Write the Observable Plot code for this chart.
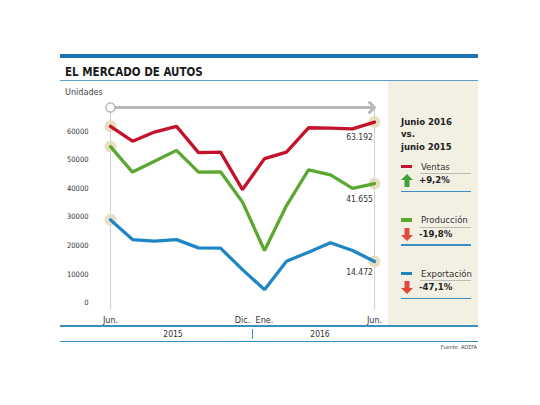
<!DOCTYPE html>
<html>
<head>
<meta charset="utf-8">
<script src="https://cdn.jsdelivr.net/npm/d3@7"></script>
<script src="https://cdn.jsdelivr.net/npm/@observablehq/plot@0.6"></script>
<style>
  html, body { margin: 0; padding: 0; background: #fff; }
  #root { position: relative; width: 540px; height: 405px; overflow: hidden; font-family: "DejaVu Sans Condensed", "Liberation Sans Narrow", Roboto, sans-serif; }
  #root svg { position: absolute; left: 0; top: 0; }
  .abs { position: absolute; white-space: nowrap; }
</style>
</head>
<body>
<div id="root"></div>
<script>
// ---- data ----
const months = ["2015-06","2015-07","2015-08","2015-09","2015-10","2015-11","2015-12","2016-01","2016-02","2016-03","2016-04","2016-05","2016-06"];
const ventas      = [61700, 56500, 59700, 61700, 52500, 52700, 39600, 50400, 52700, 61200, 61100, 60800, 63192];
const produccion  = [54600, 45700, 49500, 53300, 45700, 45800, 35200, 18300, 34000, 46500, 44700, 40000, 41655];
const exportacion = [29000, 22100, 21600, 22100, 19200, 19100, 11600, 4600, 14500, 17700, 21000, 18300, 14472];
const seriesNames = ["Ventas", "Producción", "Exportación"];
const seriesColors = ["#c4122b", "#5aa832", "#1f86c5"];
const endLabels = ["63.192", "41.655", "14.472"];
const changes = ["+9,2%", "-19,8%", "-47,1%"];
const changeUp = [true, false, false];
const yTicks = [0, 10000, 20000, 30000, 40000, 50000, 60000];
const xTickMonths = ["2015-06", "2015-12", "2016-01", "2016-06"];
const xTickLabels = ["Jun.", "Dic.", "Ene.", "Jun."];
const yearLabels = ["2015", "2016"];
const arrowLevel = 68300;

const seriesValues = [ventas, produccion, exportacion];
const rows = seriesNames.flatMap((s, i) => seriesValues[i].map((v, j) => ({serie: s, month: months[j], value: v, idx: j})));
const ends = rows.filter(d => d.idx === 0 || d.idx === months.length - 1);

const root = document.getElementById("root");
const font = "\"DejaVu Sans Condensed\", \"Liberation Sans Narrow\", Roboto, sans-serif";

const labelDy = [15, 16, 11];
const marks = [
  Plot.ruleX([months[0], months[months.length - 1]], {stroke: "#cfcfcf", strokeWidth: 1, insetTop: -24, insetBottom: -8}),
  Plot.arrow([{}], {x1: () => months[0], x2: () => months[months.length - 1], y1: () => arrowLevel, y2: () => arrowLevel,
    stroke: "#b9b9b9", strokeWidth: 3, headLength: 3.5, headAngle: 90, insetStart: 4}),
  Plot.dot([{}], {x: () => months[0], y: () => arrowLevel, r: 4.5, fill: "#fff", stroke: "#b9b9b9", strokeWidth: 1.5}),
  Plot.dot(ends, {x: "month", y: "value", r: 6, fill: "#e5dabd", fillOpacity: 0.9}),
  Plot.line(rows, {x: "month", y: "value", z: "serie", stroke: "serie", strokeWidth: 3.3, strokeLinejoin: "miter"}),
  Plot.axisY(yTicks, {tickSize: 0, tickPadding: 17, fontSize: 7.5, fill: "#333", label: null, tickFormat: d => String(d)}),
  Plot.axisX(xTickMonths, {tickSize: 0, tickPadding: 14, fontSize: 9, fill: "#333", label: null, tickFormat: d => xTickLabels[xTickMonths.indexOf(d)]})
];
seriesNames.forEach((s, i) => {
  const last = rows.filter(d => d.serie === s && d.idx === months.length - 1);
  marks.push(Plot.text(last, {x: "month", y: "value", text: () => endLabels[i], dx: -15, dy: labelDy[i], fontSize: 8.5, fill: "#333"}));
});

const chart = Plot.plot({
  width: 540, height: 405,
  marginLeft: 105, marginRight: 163, marginTop: 131, marginBottom: 103,
  x: {type: "point", domain: months, range: [105.5, 377.5], padding: 0, label: null},
  y: {domain: [0, 60000], range: [302.3, 130.7], label: null},
  color: {domain: seriesNames, range: seriesColors},
  style: {background: "transparent", fontFamily: font, overflow: "visible"},
  marks
});
root.appendChild(chart);

// ---- decorations (HTML) ----
function box(x, y, w, h, bg) {
  const d = document.createElement("div");
  d.className = "abs";
  Object.assign(d.style, {left: x + "px", top: y + "px", width: w + "px", height: h + "px", background: bg});
  root.appendChild(d);
  return d;
}
function txt(t, x, y, size, opts = {}) {
  const d = document.createElement("div");
  d.className = "abs";
  d.textContent = t;
  const ax = opts.anchor === "middle" ? "-50%" : opts.anchor === "end" ? "-100%" : "0";
  Object.assign(d.style, {left: x + "px", top: y + "px", fontSize: size + "px", lineHeight: "1",
    fontWeight: opts.bold ? "bold" : "normal", color: opts.color || "#222",
    transform: `translate(${ax}, -50%)`, fontFamily: font});
  root.appendChild(d);
  return d;
}

// right panel background (behind)
const panel = box(388, 81, 90, 244, "#f2efe3");
root.insertBefore(panel, chart);

box(60, 54, 418, 3.5, "#1b74b1");
txt("EL MERCADO DE AUTOS", 65, 72.5, 11.5, {bold: true, color: "#1a1a1a"});
box(60, 80, 418, 1, "#5f9fc6");
txt("Unidades", 65, 91.5, 9, {color: "#444"});

txt("Junio 2016", 401, 121.5, 9.5, {bold: true});
txt("vs.", 401, 134, 9.5, {bold: true});
txt("junio 2015", 401, 146.5, 9.5, {bold: true});

const legendY = [166.5, 220, 273.5];
seriesNames.forEach((s, i) => {
  const y = legendY[i];
  box(401, y - 1.6, 11, 3.2, seriesColors[i]);
  txt(s, 421, y, 9.5, {color: "#333"});
  box(420, y + 6.5, 51, 0.8, "#bdbab0");
  const ic = document.createElementNS("http://www.w3.org/2000/svg", "svg");
  ic.setAttribute("width", 12); ic.setAttribute("height", 13);
  ic.setAttribute("class", "abs");
  Object.assign(ic.style, {position: "absolute", left: "401px", top: (y + 7.5) + "px"});
  const p = document.createElementNS("http://www.w3.org/2000/svg", "path");
  p.setAttribute("d", changeUp[i] ? "M6 0 L12 6 L8.5 6 L8.5 13 L3.5 13 L3.5 6 L0 6 Z" : "M3.5 0 L8.5 0 L8.5 7 L12 7 L6 13 L0 7 L3.5 7 Z");
  p.setAttribute("fill", changeUp[i] ? "#3ea13a" : "#e0493c");
  ic.appendChild(p);
  root.appendChild(ic);
  txt(changes[i], 419, y + 13.5, 9.5, {bold: true, color: "#222"});
  box(401, y + 24, 70, 1.5, "#3e8ec1");
});

box(60, 325, 418, 1.5, "#3a8fbf");
box(60, 340.5, 418, 1.5, "#3a8fbf");
txt(yearLabels[0], 173, 333.5, 8.5, {anchor: "middle", color: "#333"});
txt(yearLabels[1], 320, 333.5, 8.5, {anchor: "middle", color: "#333"});
box(252, 328.5, 1.2, 10, "#3a8fbf");
txt("Fuente: ADEFA", 477, 347.5, 5.5, {anchor: "end", color: "#444"});
</script>
</body>
</html>
